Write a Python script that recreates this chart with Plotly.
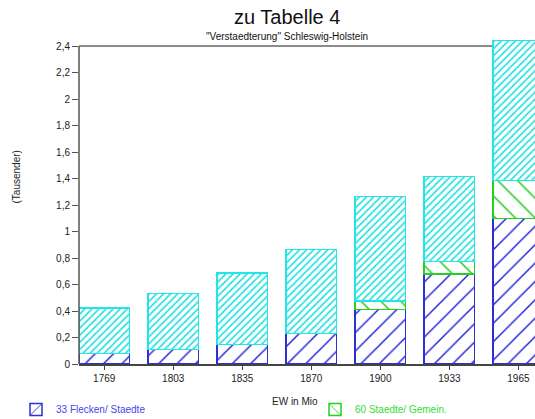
import plotly.graph_objects as go

years = ["1769", "1803", "1835", "1870", "1900", "1933", "1965"]
flecken_staedte = [0.081, 0.108, 0.147, 0.229, 0.411, 0.678, 1.097]
staedte_gemein = [0.0, 0.0, 0.0, 0.0, 0.064, 0.097, 0.288]
rest = [0.343, 0.424, 0.538, 0.637, 0.791, 0.641, 1.055]

y_ticks = [0, 0.2, 0.4, 0.6, 0.8, 1.0, 1.2, 1.4, 1.6, 1.8, 2.0, 2.2, 2.4]
y_ticklabels = ["0", "0,2", "0,4", "0,6", "0,8", "1", "1,2", "1,4", "1,6", "1,8", "2", "2,2", "2,4"]

title = "zu Tabelle 4"
subtitle = "\"Verstaedterung\" Schleswig-Holstein"
x_title = "EW in Mio"
y_title = "(Tausender)"

W, H = 535, 419
ML, MR, MT, MB = 79, 0, 39, 55
FONT = "Liberation Sans, Arial, sans-serif"

fig = go.Figure()
fig.add_trace(go.Bar(
    x=years, y=flecken_staedte,
    name="<span style='color:#4646ee'>33 Flecken/ Staedte</span>",
    legend="legend",
    marker=dict(color="white",
                line=dict(color="#2f2fd6", width=1.5),
                pattern=dict(shape="/", fgcolor="#1f1fdd", bgcolor="white",
                             size=13, solidity=0.11, fillmode="replace")),
    width=0.73,
))
fig.add_trace(go.Bar(
    x=years, y=staedte_gemein,
    name="<span style='color:#33dd33'>60 Staedte/ Gemein.</span>",
    legend="legend2",
    marker=dict(color="white",
                line=dict(color="#22d022", width=1.5),
                pattern=dict(shape="\\", fgcolor="#1ccc1c", bgcolor="white",
                             size=14, solidity=0.11, fillmode="replace")),
    width=0.73,
))
fig.add_trace(go.Bar(
    x=years, y=rest,
    name="Rest",
    showlegend=False,
    marker=dict(color="white",
                line=dict(color="#22e6e6", width=1.5),
                pattern=dict(shape="/", fgcolor="#1ee0e0", bgcolor="white",
                             size=5, solidity=0.32, fillmode="replace")),
    width=0.73,
))

# frame lines
fig.add_shape(type="line", xref="paper", yref="y", x0=0, x1=1, y0=2.4, y1=2.4,
              line=dict(color="#666666", width=1.5), layer="below")
fig.add_shape(type="line", xref="paper", yref="y", x0=0, x1=0, y0=0, y1=2.4,
              line=dict(color="#555555", width=1.5), layer="above")

PW = W - ML - MR
PH = H - MT - MB
px_x = lambda px: (px - ML) / PW
px_y = lambda py: 1 - (py - MT) / PH

fig.add_annotation(text=title, xref="paper", yref="paper",
                   x=px_x(286.5), y=px_y(17),
                   xanchor="center", yanchor="middle", showarrow=False,
                   font=dict(family=FONT, size=20, color="#111111"))
fig.add_annotation(text=subtitle, xref="paper", yref="paper",
                   x=px_x(286.5), y=px_y(36),
                   xanchor="center", yanchor="middle", showarrow=False,
                   font=dict(family=FONT, size=10, color="#111111"))
fig.add_annotation(text=x_title, xref="paper", yref="paper",
                   x=px_x(294.5), y=px_y(401),
                   xanchor="center", yanchor="middle", showarrow=False,
                   font=dict(family=FONT, size=10, color="#222222"))
fig.add_annotation(text=y_title, xref="paper", yref="paper",
                   x=px_x(16), y=px_y(176.5),
                   xanchor="center", yanchor="middle", showarrow=False, textangle=-90,
                   font=dict(family=FONT, size=10, color="#222222"))

legend_common = dict(orientation="h", xref="container", yref="container",
                     xanchor="left", yanchor="top",
                     font=dict(family=FONT, size=10), bgcolor="rgba(0,0,0,0)")

fig.update_layout(
    width=W, height=H,
    margin=dict(l=ML, r=MR, t=MT, b=MB, pad=0),
    barmode="stack",
    plot_bgcolor="white", paper_bgcolor="white",
    font=dict(family=FONT, size=10, color="#222222"),
    showlegend=True,
    legend=dict(x=16 / W, y=(H - 395) / H, **legend_common),
    legend2=dict(x=315 / W, y=(H - 395) / H, **legend_common),
    xaxis=dict(type="category", range=[-0.365, 6.24], showgrid=False, zeroline=False,
               showline=True, linecolor="#444444", linewidth=1.5,
               ticks="outside", ticklen=4, tickcolor="#444444", tickwidth=1,
               tickfont=dict(family=FONT, size=10, color="#222222"), automargin=False),
    yaxis=dict(range=[0, 2.453], showgrid=False, zeroline=False, showline=False,
               tickvals=y_ticks, ticktext=y_ticklabels,
               ticks="outside", ticklen=6, tickcolor="#555555", tickwidth=1,
               tickfont=dict(family=FONT, size=10, color="#222222"), automargin=False),
)

fig.write_html("out.html", config={"displayModeBar": False},
               post_script="document.body.style.margin='0';document.body.style.overflow='hidden';")
